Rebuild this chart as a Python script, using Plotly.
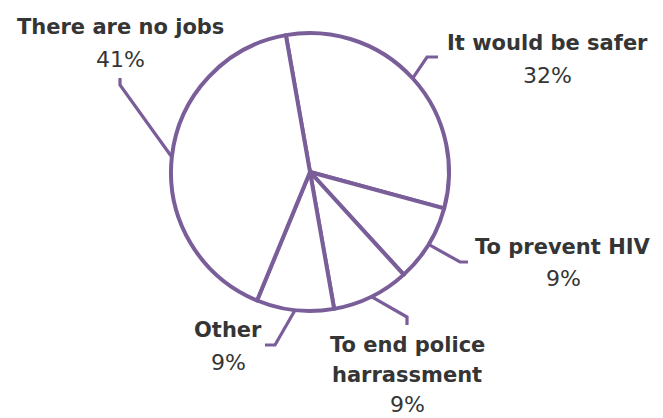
import math
import plotly.graph_objects as go

# ---- data ----
categories = ["It would be safer", "To prevent HIV", "To end police harrassment", "Other", "There are no jobs"]
display_lines = [["It would be safer"], ["To prevent HIV"], ["To end police", "harrassment"], ["Other"], ["There are no jobs"]]
values = [32, 9, 9, 9, 41]

# ---- layout / style ----
W, H = 663, 418
CX, CY, R = 310, 172, 139          # pie centre and radius in pixels
ROTATION = -10
LINE_COLOR = "#7a5e99"
TEXT_COLOR = "#353535"
FONT = "DejaVu Sans"

# label placement (pixels): leader elbow, leader end, text centre x, first line y, line step
label_layout = [
    dict(elbow=(427, 57), end=(438, 57), tx=547, ty=43, step=32),
    dict(elbow=(460, 262), end=(468, 262), tx=563, ty=247, step=31),
    dict(elbow=(407, 317), end=(407, 325), tx=407, ty=345, step=29.5),
    dict(elbow=(275, 345), end=(265, 345), tx=228, ty=330, step=32),
    dict(elbow=(120, 85), end=(120, 78), tx=120, ty=27, step=33),
]


def px(x):
    return x / W


def py(y):
    return 1 - y / H


fig = go.Figure(go.Pie(
    labels=categories,
    values=values,
    sort=False,
    direction="clockwise",
    rotation=ROTATION,
    textinfo="none",
    hoverinfo="label+percent",
    marker=dict(colors=["white"] * len(values), line=dict(color=LINE_COLOR, width=4)),
    domain=dict(x=[px(CX - R), px(CX + R)], y=[py(CY + R), py(CY - R)]),
    showlegend=False,
    automargin=False,
))

total = sum(values)
shapes = []
annotations = []
cum = 0
for name_lines, v, lay in zip(display_lines, values, label_layout):
    mid = math.radians(ROTATION + (cum + v / 2) / total * 360)
    cum += v
    sx = CX + R * math.sin(mid)
    sy = CY - R * math.cos(mid)
    ex, ey = lay["elbow"]
    nx, ny = lay["end"]
    shapes.append(dict(
        type="path", xref="paper", yref="paper",
        path=f"M {px(sx)},{py(sy)} L {px(ex)},{py(ey)} L {px(nx)},{py(ny)}",
        line=dict(color=LINE_COLOR, width=3.2),
    ))
    y = lay["ty"]
    for ln in name_lines:
        annotations.append(dict(
            x=px(lay["tx"]), y=py(y), xref="paper", yref="paper",
            text=f"<b>{ln}</b>", showarrow=False, xanchor="center", yanchor="middle",
            font=dict(family=FONT, size=21, color=TEXT_COLOR), borderpad=0,
        ))
        y += lay["step"]
    annotations.append(dict(
        x=px(lay["tx"]), y=py(y), xref="paper", yref="paper",
        text=f"{round(v / total * 100)}%", showarrow=False, xanchor="center", yanchor="middle",
        font=dict(family=FONT, size=22, color=TEXT_COLOR), borderpad=0,
    ))

fig.update_layout(
    width=W, height=H,
    margin=dict(l=0, r=0, t=0, b=0),
    paper_bgcolor="white",
    plot_bgcolor="white",
    shapes=shapes,
    annotations=annotations,
)

fig.write_html("out.html")
